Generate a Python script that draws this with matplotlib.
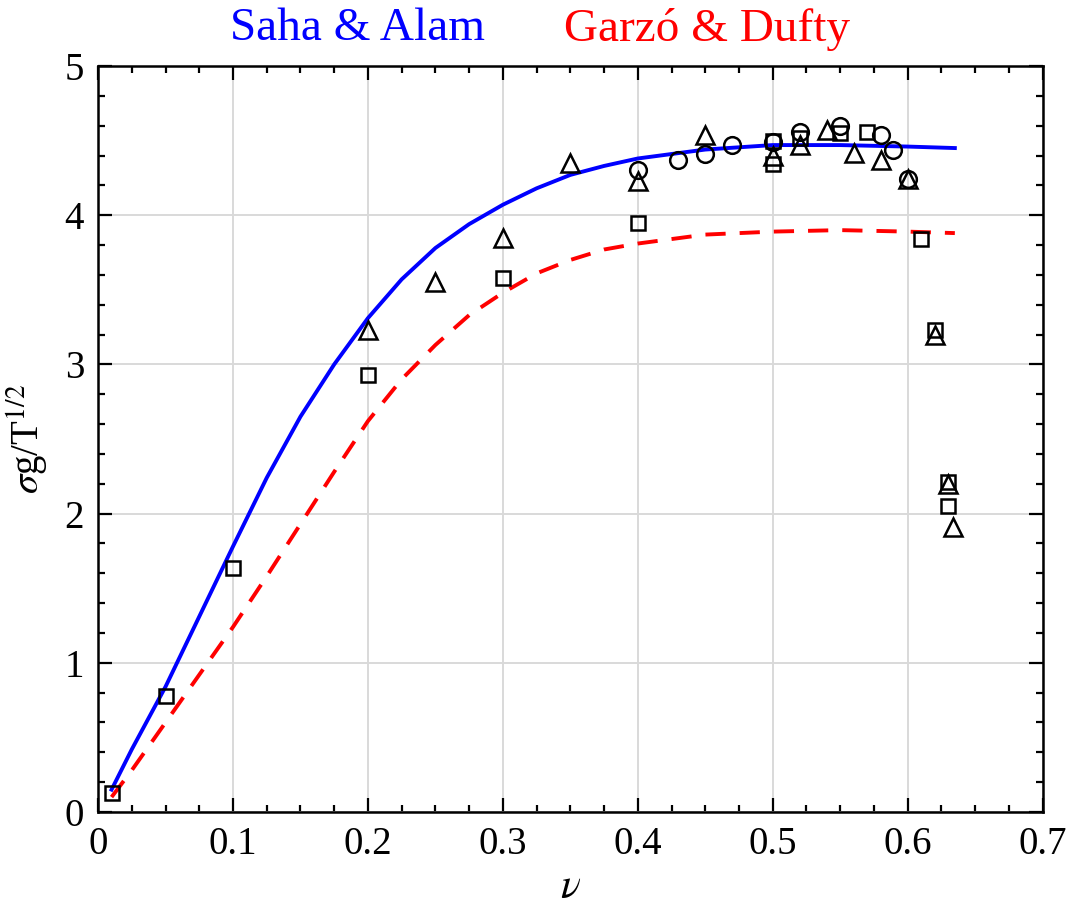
import matplotlib
matplotlib.use("Agg")
import matplotlib.pyplot as plt
from matplotlib.ticker import MultipleLocator

plt.rcParams['font.family'] = ['Liberation Serif', 'DejaVu Serif']
plt.rcParams['mathtext.fontset'] = 'stix'

# Theory curves
nu_curve = [0.01, 0.025, 0.05, 0.075, 0.1, 0.125, 0.15, 0.175, 0.2, 0.225, 0.25,
            0.275, 0.3, 0.325, 0.35, 0.375, 0.4, 0.45, 0.5, 0.55, 0.6, 0.635]
saha_alam = [0.15, 0.42, 0.84, 1.31, 1.78, 2.24, 2.65, 3.00, 3.31, 3.57, 3.78,
             3.94, 4.07, 4.18, 4.27, 4.33, 4.38, 4.44, 4.47, 4.47, 4.46, 4.45]
garzo_dufty = [0.10, 0.28, 0.60, 0.92, 1.24, 1.58, 1.93, 2.28, 2.62, 2.90, 3.13,
               3.33, 3.48, 3.61, 3.70, 3.77, 3.81, 3.87, 3.89, 3.90, 3.89, 3.88]

# Simulation data
sq_nu = [0.01, 0.05, 0.1, 0.2, 0.3, 0.4, 0.5, 0.5, 0.52, 0.55, 0.57, 0.61, 0.62, 0.63, 0.63]
sq_val = [0.13, 0.78, 1.635, 2.93, 3.58, 3.95, 4.34, 4.50, 4.52, 4.55, 4.56, 3.84, 3.23, 2.21, 2.05]

tri_nu = [0.2, 0.25, 0.3, 0.35, 0.4, 0.45, 0.5, 0.52, 0.54, 0.56, 0.58, 0.6, 0.62, 0.63, 0.634]
tri_val = [3.23, 3.55, 3.85, 4.35, 4.23, 4.54, 4.40, 4.47, 4.57, 4.42, 4.37, 4.24, 3.20, 2.20, 1.91]

circ_nu = [0.4, 0.43, 0.45, 0.47, 0.5, 0.52, 0.55, 0.58, 0.589, 0.6]
circ_val = [4.30, 4.37, 4.41, 4.47, 4.49, 4.56, 4.60, 4.54, 4.44, 4.24]

x_ticks = [0, 0.1, 0.2, 0.3, 0.4, 0.5, 0.6, 0.7]
x_ticklabels = ['0', '0.1', '0.2', '0.3', '0.4', '0.5', '0.6', '0.7']
y_ticks = [0, 1, 2, 3, 4, 5]
y_ticklabels = ['0', '1', '2', '3', '4', '5']

fig = plt.figure(figsize=(10.66, 9.09), dpi=100)
ax = fig.add_axes([0.092, 0.1067, 0.886, 0.8207])

ax.plot(nu_curve, saha_alam, color='#0000ff', lw=2.8, zorder=3)
ax.plot(nu_curve, garzo_dufty, color='#ff0000', lw=2.8, ls=(0, (5.2, 3.6)), zorder=3)

mk = dict(ls='none', mfc='none', mec='black', mew=1.8, zorder=4)
ax.plot(sq_nu, sq_val, marker='s', ms=9.5, **mk)
ax.plot(tri_nu, tri_val, marker='^', ms=13, **mk)
ax.plot(circ_nu, circ_val, marker='o', ms=12, **mk)

ax.set_xlim(0, 0.7)
ax.set_ylim(0, 5)
ax.set_xticks(x_ticks)
ax.set_xticklabels(x_ticklabels)
ax.set_yticks(y_ticks)
ax.set_yticklabels(y_ticklabels)
ax.xaxis.set_minor_locator(MultipleLocator(0.025))
ax.yaxis.set_minor_locator(MultipleLocator(0.2))

ax.grid(True, which='major', color='#d9d9d9', lw=1.4, zorder=0)
ax.set_axisbelow(True)
ax.tick_params(which='both', direction='in', top=True, right=True, labelsize=28, width=1.6)
ax.tick_params(which='major', length=10, pad=10)
ax.tick_params(which='minor', length=5)
for s in ax.spines.values():
    s.set_linewidth(1.8)

ax.set_xlabel(r'$\nu$', fontsize=30, labelpad=4)
ax.set_ylabel(r'$\sigma$g/T$^{1/2}$', fontsize=28, labelpad=10)

fig.text(0.335, 0.968, 'Saha & Alam', color='#0000ff', fontsize=34, ha='center', va='center')
fig.text(0.663, 0.968, 'Garzó & Dufty', color='#ff0000', fontsize=34, ha='center', va='center')

fig.savefig('out.png', dpi=100)
